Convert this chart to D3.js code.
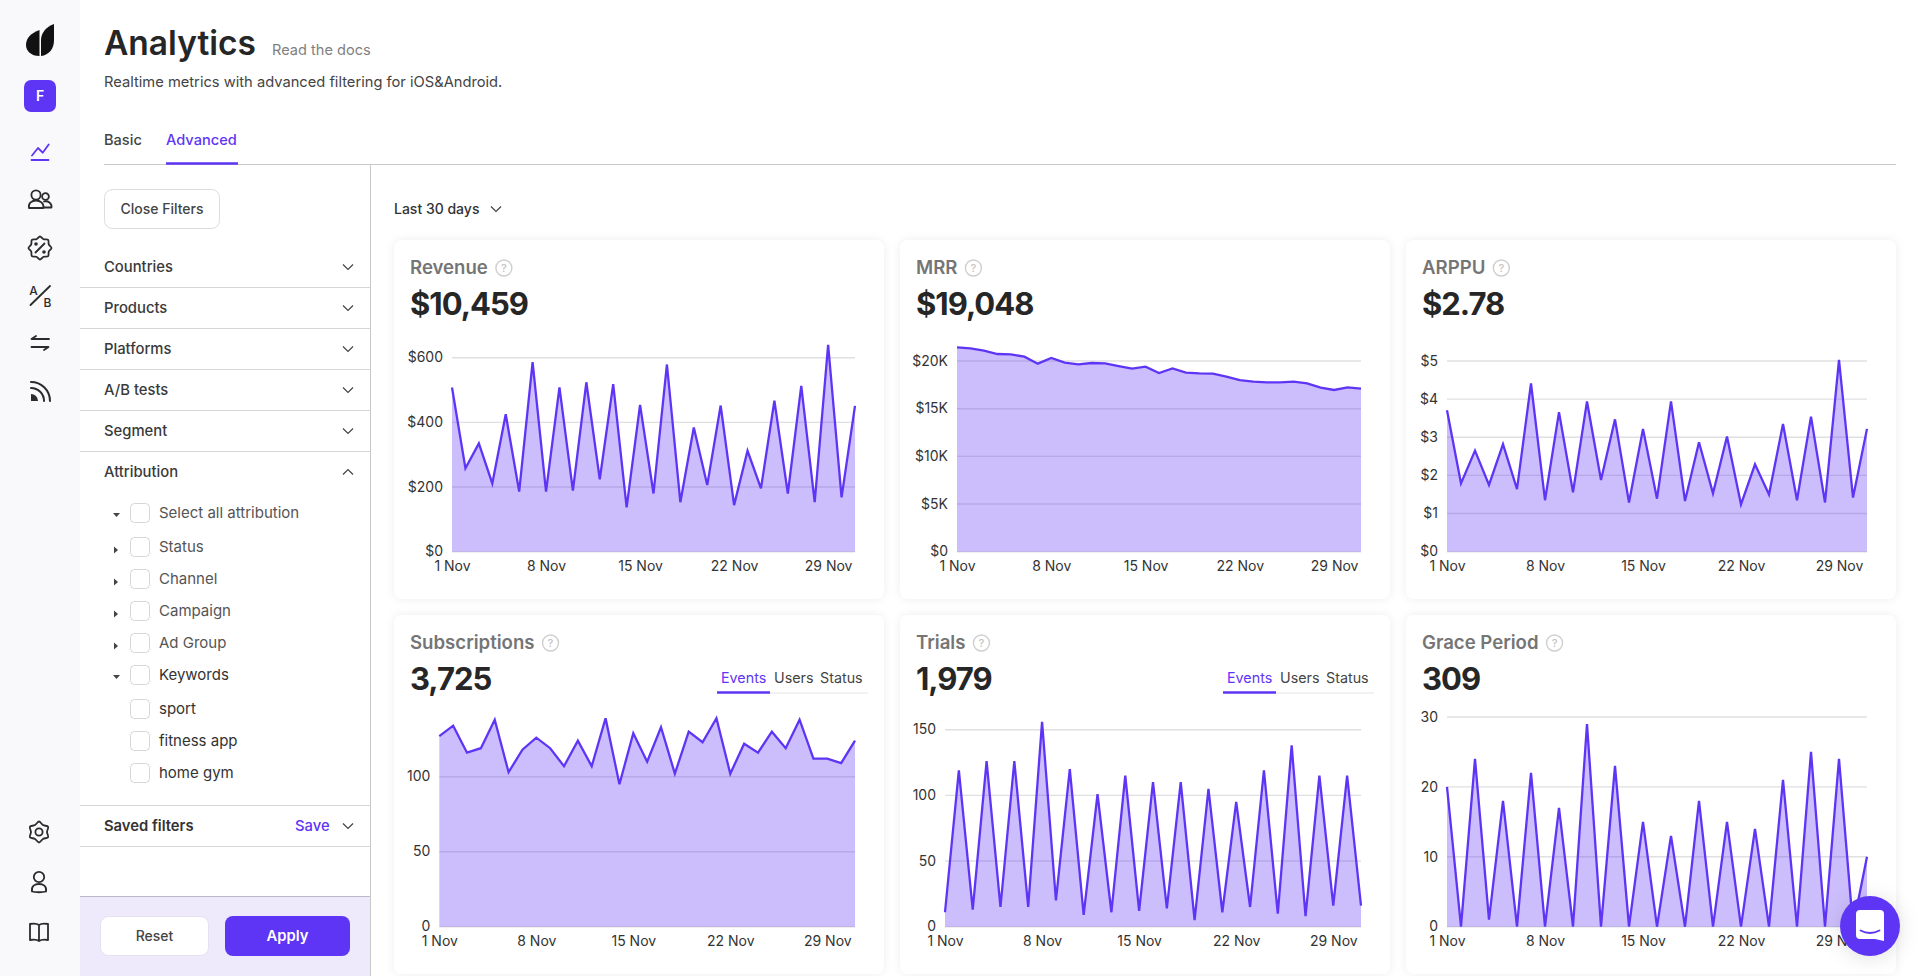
<!DOCTYPE html>
<html>
<head>
<meta charset="utf-8">
<title>Analytics</title>
<script src="https://cdn.jsdelivr.net/npm/d3@7"></script>
<style>
	html, body { margin: 0; padding: 0; background: #fff; overflow: hidden; }
	svg { display: block; font-family: Inter, "Noto Sans", sans-serif; }
	.tick text { font-family: Inter, "Noto Sans", sans-serif; font-size: 14px; fill: #333; }
</style>
</head>
<body>
<svg id="page" width="1920" height="976"></svg>
<script>
// values, one per day, 1 Nov to 1 Dec
var revenue = [508,258,335,211,425,186,586,186,508,189,524,224,518,137,454,180,579,153,384,206,452,144,312,196,467,180,513,153,640,168,451];
var mrr = [21436,21330,21085,20735,20700,20455,19720,20315,19825,19650,19790,19755,19475,19195,19405,18740,19230,18775,18705,18670,18355,18005,17830,17760,17760,17830,17655,17200,16960,17235,17095];
var arppu = [3.71,1.79,2.65,1.75,2.82,1.64,4.41,1.35,3.66,1.56,3.94,1.88,3.47,1.29,3.22,1.39,3.94,1.33,2.87,1.53,3.02,1.24,2.29,1.50,3.35,1.35,3.54,1.29,5.03,1.42,3.22];
var subscriptions = [127,134,116,119,138,103,118,126,119,107,124,107,139,95,129,110,133,102,130,123,139,102,122,116,130,119,138,112,112,109,124];
var trials = [11,119,13,126,15,126,15,156,20,120,9,101,11,115,12,110,14,110,5,105,11,95,15,119,10,138,8,115,16,115,16];
var gracePeriod = [20,0,24,1,18,0,22,0,17,0,29,0,23,0,15,0,13,0,18,0,15,0,14,0,21,0,25,0,24,0,10];

var xTickDays = [0,7,14,21,28];
var xTickLabels = ["1 Nov","8 Nov","15 Nov","22 Nov","29 Nov"];
var revenueTicks = [0,200,400,600];
var mrrTicks = [0,5000,10000,15000,20000];
var arppuTicks = [0,1,2,3,4,5];
var subscriptionTicks = [0,50,100];
var trialTicks = [0,50,100,150];
var graceTicks = [0,10,20,30];

var filterRows = ["Countries","Products","Platforms","A/B tests","Segment","Attribution"];
var attributionRows = ["Select all attribution","Status","Channel","Campaign","Ad Group","Keywords","sport","fitness app","home gym"];

var PURPLE = "#5f35f5";
var svg = d3.select("#page");

function text(g, x, y, s, size, weight, fill, anchor){
	return g.append("text").attr("x", x).attr("y", y).text(s)
		.attr("font-size", size).attr("font-weight", weight).attr("fill", fill)
		.attr("text-anchor", anchor || "start");
}
function hline(g, x1, x2, y, color, w){
	g.append("line").attr("x1", x1).attr("x2", x2).attr("y1", y).attr("y2", y)
		.attr("stroke", color).attr("stroke-width", w || 1);
}
function chevron(g, cx, cy, up){
	var d = up ? -1 : 1;
	g.append("path").attr("d", "M" + (cx-5) + " " + (cy-2.5*d) + "L" + cx + " " + (cy+2.5*d) + "L" + (cx+5) + " " + (cy-2.5*d))
		.attr("fill", "none").attr("stroke", "#444").attr("stroke-width", 1.2);
}
function icon(g, d, color, w){
	return g.append("path").attr("d", d).attr("fill", "none")
		.attr("stroke", color || "#2b2b2b").attr("stroke-width", w || 1.8)
		.attr("stroke-linecap", "round").attr("stroke-linejoin", "round");
}
// lobed outline for the percent badge and the gear
function lobes(cx, cy, n, r1, r2){
	var pts = d3.range(n*2).map(function(i){ return [i*Math.PI/n, i%2 ? r2 : r1]; });
	var p = d3.lineRadial().curve(d3.curveCatmullRomClosed)(pts);
	return {d: p, t: "translate(" + cx + "," + cy + ")"};
}

/////// left icon rail
var rail = svg.append("g");
rail.append("rect").attr("width", 80).attr("height", 976).attr("fill", "#f9f9fc");
rail.append("path").attr("d", "M39.5 30C31 33 26 38 26 45C26 51 31 56 39.5 56Z").attr("fill", "#111");
rail.append("path").attr("d", "M41 56C49 55 54 49 54 40L54 24C46 27 41 33 41 40Z").attr("fill", "#111");
rail.append("rect").attr("x", 24).attr("y", 80).attr("width", 32).attr("height", 32).attr("rx", 7).attr("fill", PURPLE);
text(rail, 40, 101, "F", 14, 600, "#fff", "middle");
icon(rail, "M32 155.5L38 148L42.7 152.7L48.7 144.5", PURPLE);
icon(rail, "M31.5 160H48.5", PURPLE);
rail.append("circle").attr("cx", 36).attr("cy", 195).attr("r", 4.6).attr("fill", "none").attr("stroke", "#2b2b2b").attr("stroke-width", 1.8);
rail.append("circle").attr("cx", 45.5).attr("cy", 196.5).attr("r", 3.4).attr("fill", "none").attr("stroke", "#2b2b2b").attr("stroke-width", 1.8);
icon(rail, "M29 208C28 203 32 200.5 36 200.5C40 200.5 44 203 43.5 208Z");
icon(rail, "M44 201.5C48 200.5 52 203 51.5 207.5L44 207.5");
var badge = lobes(40, 248, 8, 11.5, 9.5);
icon(rail, badge.d).attr("transform", badge.t);
icon(rail, "M35.5 252.5L44.5 243.5");
rail.append("circle").attr("cx", 36).attr("cy", 244).attr("r", 1.8).attr("fill", "#2b2b2b");
rail.append("circle").attr("cx", 44).attr("cy", 252).attr("r", 1.8).attr("fill", "#2b2b2b");
text(rail, 33.5, 295, "A", 12, 500, "#2b2b2b", "middle");
text(rail, 47.5, 307, "B", 12, 500, "#2b2b2b", "middle");
icon(rail, "M30.5 305L50 286");
icon(rail, "M36 336L31.5 339H49M44 350L48.5 347H31.5");
rail.append("path").attr("d", "M31 394A7 7 0 0 1 38 401H31Z").attr("fill", "#2b2b2b");
icon(rail, "M31 388A13 13 0 0 1 44 401M31 382A19 19 0 0 1 50 401", "#2b2b2b", 2);
var gear = lobes(39, 832, 6, 10.5, 8);
icon(rail, gear.d).attr("transform", gear.t);
rail.append("circle").attr("cx", 39).attr("cy", 832).attr("r", 3.6).attr("fill", "none").attr("stroke", "#2b2b2b").attr("stroke-width", 1.8);
rail.append("circle").attr("cx", 39).attr("cy", 877).attr("r", 5.2).attr("fill", "none").attr("stroke", "#2b2b2b").attr("stroke-width", 1.8);
icon(rail, "M32 891.5C31 886 35 884 39 884C43 884 47 886 46 891.5C43 892.5 35 892.5 32 891.5Z");
icon(rail, "M39 925C37 923.5 33 923.5 30 924V940C33 939.5 37 939.5 39 941C41 939.5 45 939.5 48 940V924C45 923.5 41 923.5 39 925ZM39 925V941");

/////// page header
var head = svg.append("g");
text(head, 104, 55, "Analytics", 33.5, 600, "#262626");
text(head, 272, 55, "Read the docs", 14.6, 400, "#808080");
text(head, 104, 87, "Realtime metrics with advanced filtering for iOS&Android.", 14.7, 400, "#444");
text(head, 104, 145, "Basic", 14.6, 500, "#444");
text(head, 166, 145, "Advanced", 14.6, 500, PURPLE);
hline(head, 104, 1896, 164.5, "#c9c9c9");
hline(head, 166, 238, 163.5, PURPLE, 2.5);
head.append("line").attr("x1", 370.5).attr("x2", 370.5).attr("y1", 164).attr("y2", 976).attr("stroke", "#c9c9c9");

/////// filters column
var filters = svg.append("g");
filters.append("rect").attr("x", 104.5).attr("y", 189.5).attr("width", 115).attr("height", 39).attr("rx", 8)
	.attr("fill", "#fff").attr("stroke", "#dcdcdc");
text(filters, 162, 214, "Close Filters", 14, 500, "#444", "middle");

filterRows.forEach(function(d, i){
	var base = 272 + i*41;
	text(filters, 104, base, d, 14.8, 500, "#3a3a3a");
	chevron(filters, 348, base-5, d == "Attribution");
	if(i < filterRows.length-1)
		hline(filters, 80, 370, base+15.5, "#d6d6d6");
});

var treeBoxY = [503,537,569,601,633,665,699,731,763];
var treeArrow = [-1,1,1,1,1,-1,0,0,0];
attributionRows.forEach(function(d, i){
	var y = treeBoxY[i];
	filters.append("rect").attr("x", 130.5).attr("y", y+.5).attr("width", 19).attr("height", 19).attr("rx", 4)
		.attr("fill", "#fff").attr("stroke", "#d6d6d6");
	text(filters, 159, y+15, d, 15, 400, i < 5 ? "#555" : "#333");
	if(treeArrow[i] == 1)
		filters.append("path").attr("d", "M114 " + (y+9.5) + "l4 3.5l-4 3.5z").attr("fill", "#444");
	if(treeArrow[i] == -1)
		filters.append("path").attr("d", "M113 " + (y+10) + "h7l-3.5 4z").attr("fill", "#444");
});

hline(filters, 80, 370, 805.5, "#d6d6d6");
text(filters, 104, 831, "Saved filters", 14.8, 600, "#333");
text(filters, 295, 831, "Save", 14.8, 500, PURPLE);
chevron(filters, 348, 826);
hline(filters, 80, 370, 846.5, "#d6d6d6");

filters.append("rect").attr("x", 80).attr("y", 896).attr("width", 290).attr("height", 80).attr("fill", "#eee9fb");
hline(filters, 80, 370, 896.5, "#bdb8cc");
filters.append("rect").attr("x", 100.5).attr("y", 916.5).attr("width", 108).attr("height", 39).attr("rx", 8)
	.attr("fill", "#fff").attr("stroke", "#e4e1ee");
text(filters, 154.5, 941, "Reset", 14, 500, "#444", "middle");
filters.append("rect").attr("x", 225).attr("y", 916).attr("width", 125).attr("height", 40).attr("rx", 8).attr("fill", PURPLE);
text(filters, 287.5, 941, "Apply", 14.8, 600, "#fff", "middle");

/////// date picker
text(svg, 394, 214, "Last 30 days", 14, 500, "#333");
chevron(svg, 496, 209);

/////// metric cards
var cards = [
	{title:"Revenue", total:"$10,459", values:revenue, ticks:revenueTicks, fmt:function(d){return "$"+d;},
		col:0, row:0, left:452, right:855, top:357.7},
	{title:"MRR", total:"$19,048", values:mrr, ticks:mrrTicks, fmt:function(d){return d ? "$"+d/1000+"K" : "$0";},
		col:1, row:0, left:957, right:1361, top:361},
	{title:"ARPPU", total:"$2.78", values:arppu, ticks:arppuTicks, fmt:function(d){return "$"+d;},
		col:2, row:0, left:1447, right:1867, top:361},
	{title:"Subscriptions", total:"3,725", values:subscriptions, ticks:subscriptionTicks, fmt:String, tabs:true,
		col:0, row:1, left:439.3, right:855, top:776.7},
	{title:"Trials", total:"1,979", values:trials, ticks:trialTicks, fmt:String, tabs:true,
		col:1, row:1, left:945, right:1361, top:729.7},
	{title:"Grace Period", total:"309", values:gracePeriod, ticks:graceTicks, fmt:String,
		col:2, row:1, left:1447, right:1867, top:717}
];
var cardX = [394,900,1406];
var cardY = [240,615];
var zeroY = [551.7,926.7];

cards.forEach(function(c){
	var cx = cardX[c.col], cy = cardY[c.row], y0 = zeroY[c.row];
	var g = svg.append("g");
	g.append("rect").attr("x", cx).attr("y", cy).attr("width", 490).attr("height", 359).attr("rx", 8)
		.attr("fill", "#fff").style("filter", "drop-shadow(0 0 5px rgba(0,0,0,.07))");

	var title = text(g, cx+16, cy+34, c.title, 18.6, 600, "#757575");
	var tw = title.node().getComputedTextLength();
	g.append("circle").attr("cx", cx+16+tw+16).attr("cy", cy+28).attr("r", 8)
		.attr("fill", "none").attr("stroke", "#cfcfcf").attr("stroke-width", 1.4);
	text(g, cx+16+tw+16, cy+32, "?", 11, 500, "#c4c4c4", "middle");
	text(g, cx+16, cy+75, c.total, 31, 700, "#262626").attr("letter-spacing", -1);

	if(c.tabs){
		text(g, cx+327, cy+68, "Events", 14.3, 400, PURPLE);
		text(g, cx+380, cy+68, "Users", 14.3, 400, "#444");
		text(g, cx+426, cy+68, "Status", 14.3, 400, "#444");
		hline(g, cx+376, cx+474, cy+78, "#e4e4e4");
		hline(g, cx+323, cx+376, cy+77.5, PURPLE, 2.5);
	}

	var x = d3.scaleLinear().domain([0, c.values.length-1]).range([c.left, c.right]);
	var y = d3.scaleLinear().domain([0, d3.max(c.ticks)]).range([y0, c.top]);

	g.append("g").selectAll("line").data(c.ticks).join("line")
		.attr("x1", c.left).attr("x2", c.right)
		.attr("y1", function(d){return y(d);}).attr("y2", function(d){return y(d);})
		.attr("stroke", "#e0e0e0").attr("stroke-width", 1.4);

	g.append("path").datum(c.values)
		.attr("fill", PURPLE).attr("fill-opacity", .32)
		.attr("d", d3.area().x(function(d,i){return x(i);}).y0(y0).y1(function(d){return y(d);}));
	g.append("path").datum(c.values)
		.attr("fill", "none").attr("stroke", PURPLE).attr("stroke-width", 2.3)
		.attr("d", d3.line().x(function(d,i){return x(i);}).y(function(d){return y(d);}));

	var ya = g.append("g").attr("transform", "translate(" + c.left + ",0)")
		.call(d3.axisLeft(y).tickValues(c.ticks).tickFormat(c.fmt).tickSize(0).tickPadding(9));
	ya.select(".domain").remove();
	ya.selectAll("text").attr("dy", "0.3em");

	var xa = g.append("g").attr("transform", "translate(0," + y0 + ")")
		.call(d3.axisBottom(x).tickValues(xTickDays).tickFormat(function(d,i){return xTickLabels[i];}).tickSize(0).tickPadding(9));
	xa.select(".domain").remove();
});

/////// chat bubble
var chat = svg.append("g");
chat.append("circle").attr("cx", 1870).attr("cy", 926).attr("r", 30).attr("fill", PURPLE)
	.style("filter", "drop-shadow(0 2px 10px rgba(0,0,0,.12))");
chat.append("path").attr("d", "M1860 910H1880A4 4 0 0 1 1884 914V941L1875 939H1860A4 4 0 0 1 1856 935V914A4 4 0 0 1 1860 910Z").attr("fill", "#fff");
chat.append("path").attr("d", "M1860.5 930.5Q1870 935.5 1879.5 930.5").attr("fill", "none").attr("stroke", PURPLE).attr("stroke-width", 1.8).attr("stroke-linecap", "round");
</script>
</body>
</html>
